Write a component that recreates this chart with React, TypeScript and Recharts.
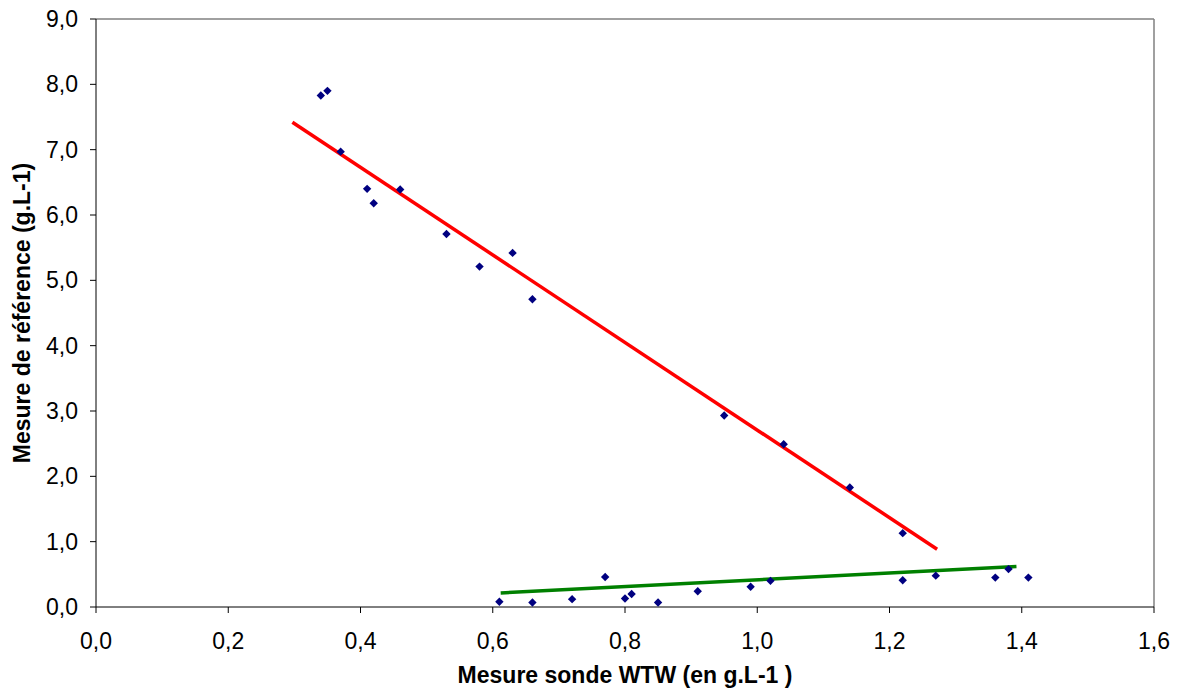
import {
  ScatterChart,
  Scatter,
  XAxis,
  YAxis,
  ReferenceLine,
  Label,
} from "recharts";

const redX = [0.34, 0.35, 0.37, 0.41, 0.42, 0.46, 0.53, 0.58, 0.63, 0.66, 0.95, 1.04, 1.14, 1.22];
const redY = [7.83, 7.9, 6.97, 6.4, 6.18, 6.39, 5.71, 5.21, 5.42, 4.71, 2.93, 2.49, 1.83, 1.13];
const greenX = [0.61, 0.66, 0.72, 0.77, 0.8, 0.81, 0.85, 0.91, 0.99, 1.02, 1.22, 1.27, 1.36, 1.38, 1.41];
const greenY = [0.08, 0.07, 0.12, 0.46, 0.13, 0.2, 0.07, 0.24, 0.31, 0.4, 0.41, 0.48, 0.45, 0.58, 0.45];

// trend line end points
const redTrend = [
  { x: 0.297, y: 7.42 },
  { x: 1.272, y: 0.885 },
];
const greenTrend = [
  { x: 0.612, y: 0.215 },
  { x: 1.392, y: 0.62 },
];

const xTicks = [0, 0.2, 0.4, 0.6, 0.8, 1.0, 1.2, 1.4, 1.6];
const yTicks = [0, 1, 2, 3, 4, 5, 6, 7, 8, 9];

const points = [
  ...redX.map((x, i) => ({ x, y: redY[i] })),
  ...greenX.map((x, i) => ({ x, y: greenY[i] })),
];

const font = "'Liberation Sans', Arial, sans-serif";
const fmt = (v: number) => v.toFixed(1).replace(".", ",");

const Diamond = (props: any) => {
  const { cx, cy } = props;
  const r = 4.2;
  return (
    <polygon
      points={`${cx},${cy - r} ${cx + r},${cy} ${cx},${cy + r} ${cx - r},${cy}`}
      fill="#000080"
    />
  );
};

export default function App() {
  return (
    <div style={{ position: "absolute", left: 0, top: 0, fontFamily: font }}>
      <ScatterChart
        width={1179}
        height={693}
        margin={{ top: 19, right: 25, left: 0, bottom: 0 }}
      >
        <XAxis
          type="number"
          dataKey="x"
          domain={[0, 1.6]}
          ticks={xTicks}
          tickFormatter={fmt}
          height={86}
          tickSize={6}
          tickMargin={20}
          stroke="#000"
          tick={{ fill: "#000", fontSize: 23, fontFamily: font }}
        >
          <Label
            value="Mesure sonde WTW (en g.L-1 )"
            position="insideBottom"
            offset={10}
            style={{ fontSize: 23, fontWeight: "bold", fill: "#000", fontFamily: font }}
          />
        </XAxis>
        <YAxis
          type="number"
          dataKey="y"
          domain={[0, 9]}
          ticks={yTicks}
          tickFormatter={fmt}
          width={96}
          tickSize={6}
          tickMargin={12}
          stroke="#000"
          tick={{ fill: "#000", fontSize: 23, fontFamily: font }}
        >
          <Label
            value="Mesure de référence (g.L-1)"
            angle={-90}
            position="insideLeft"
            offset={22}
            style={{ fontSize: 23, fontWeight: "bold", fill: "#000", fontFamily: font, textAnchor: "middle" }}
          />
        </YAxis>
        <ReferenceLine y={9} stroke="#808080" strokeWidth={1.5} />
        <ReferenceLine x={1.6} stroke="#808080" strokeWidth={1.5} />
        <Scatter data={points} shape={<Diamond />} isAnimationActive={false} />
        <ReferenceLine
          segment={redTrend}
          stroke="#ff0000"
          strokeWidth={3.5}
          ifOverflow="visible"
        />
        <ReferenceLine
          segment={greenTrend}
          stroke="#008000"
          strokeWidth={3.5}
          ifOverflow="visible"
        />
      </ScatterChart>
    </div>
  );
}
